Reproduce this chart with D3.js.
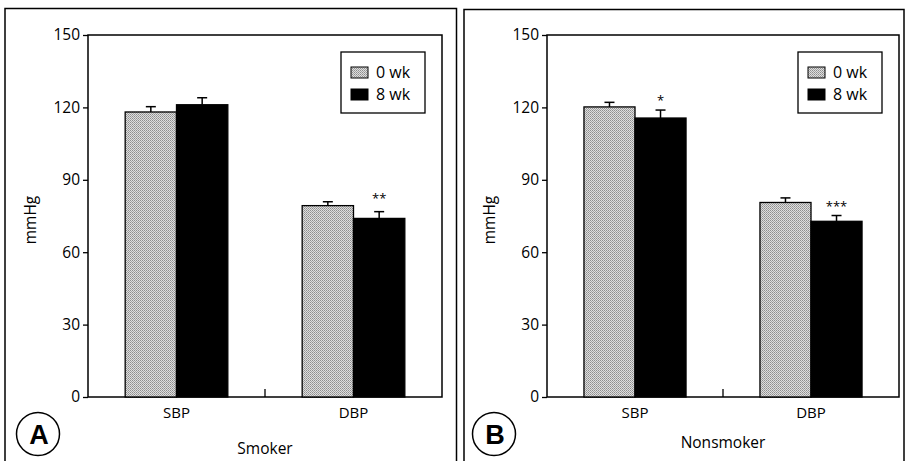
<!DOCTYPE html>
<html><head><meta charset="utf-8">
<script src="https://cdn.jsdelivr.net/npm/d3@7"></script>
<style>body{margin:0;background:#fff}svg{display:block;font-family:"Open Sans",sans-serif}</style>
</head><body><svg id="c" width="905" height="461"></svg>
<script>
const categories = ["SBP", "DBP"];
const seriesNames = ["0 wk", "8 wk"];
const yTicks = [0, 30, 60, 90, 120, 150];
const smoker0 = [118.1, 79.3];
const smoker8 = [121.1, 74.0];
const smokerErr0 = [2.2, 1.6];
const smokerErr8 = [2.9, 2.8];
const smokerSig = ["", "**"];
const nonsmoker0 = [120.2, 80.6];
const nonsmoker8 = [115.6, 72.8];
const nonsmokerErr0 = [1.9, 1.9];
const nonsmokerErr8 = [3.3, 2.4];
const nonsmokerSig = ["*", "***"];

const svg = d3.select("#c");
const defs = svg.append("defs");
const pat = defs.append("pattern").attr("id","dither").attr("patternUnits","userSpaceOnUse").attr("width",2).attr("height",2);
pat.append("rect").attr("width",2).attr("height",2).attr("fill","#dedede");
pat.append("rect").attr("width",1).attr("height",1).attr("fill","#8e8e8e");
pat.append("rect").attr("x",1).attr("y",1).attr("width",1).attr("height",1).attr("fill","#a4a4a4");
const fills = ["url(#dither)", "#000"];

function panel(o) {
  const g = svg.append("g");
  g.append("rect").attr("x", o.bx0).attr("y", o.by0).attr("width", o.bx1 - o.bx0).attr("height", 480)
    .attr("fill","none").attr("stroke","#000").attr("stroke-width",1.5);
  const y = d3.scaleLinear().domain([0,150]).range([397,35]);
  const x0 = d3.scaleBand().domain(categories).range([o.left, o.right]).paddingInner(0.42).paddingOuter(0.21);
  const x1 = d3.scaleBand().domain(seriesNames).range([0, x0.bandwidth()]);
  g.append("rect").attr("x", o.left).attr("y", y(150)).attr("width", o.right - o.left).attr("height", y(0) - y(150))
    .attr("fill","none").attr("stroke","#000").attr("stroke-width",1.5);
  const ya = g.append("g").attr("transform", `translate(${o.left},0)`)
    .call(d3.axisLeft(y).tickValues(yTicks).tickSize(5).tickPadding(3).tickFormat(d3.format("d")));
  ya.select(".domain").remove();
  ya.selectAll("line").attr("stroke","#000").attr("stroke-width",1.3);
  ya.selectAll("text").attr("font-size",15.5).attr("font-family","Open Sans").attr("fill","#000");
  const mid = (x0("SBP") + x0("DBP") + x0.bandwidth()) / 2;
  g.append("line").attr("x1", mid).attr("x2", mid).attr("y1", y(0)).attr("y2", y(0) - 8).attr("stroke","#000").attr("stroke-width",1.3);
  const xa = g.append("g").attr("transform", `translate(0,${y(0)})`)
    .call(d3.axisBottom(x0).tickSize(0).tickPadding(10));
  xa.select(".domain").remove();
  xa.selectAll("text").attr("font-size",15).attr("font-family","Open Sans").attr("fill","#000");
  const vals = [o.v0, o.v8], errs = [o.e0, o.e8];
  seriesNames.forEach((s, si) => {
    const d = categories.map((c, ci) => ({c, v: vals[si][ci], e: errs[si][ci]}));
    g.append("g").selectAll("rect").data(d).join("rect")
      .attr("x", d => x0(d.c) + x1(s)).attr("width", x1.bandwidth())
      .attr("y", d => y(d.v)).attr("height", d => y(0) - y(d.v))
      .attr("fill", fills[si]).attr("stroke","#000").attr("stroke-width",1.3);
    const eg = g.append("g").attr("stroke","#000").attr("stroke-width",1.5);
    eg.selectAll("line.v").data(d).join("line").attr("class","v")
      .attr("x1", d => x0(d.c) + x1(s) + x1.bandwidth()/2).attr("x2", d => x0(d.c) + x1(s) + x1.bandwidth()/2)
      .attr("y1", d => y(d.v)).attr("y2", d => y(d.v + d.e));
    eg.selectAll("line.h").data(d).join("line").attr("class","h")
      .attr("x1", d => x0(d.c) + x1(s) + x1.bandwidth()/2 - 5).attr("x2", d => x0(d.c) + x1(s) + x1.bandwidth()/2 + 5)
      .attr("y1", d => y(d.v + d.e)).attr("y2", d => y(d.v + d.e));
  });
  g.append("g").selectAll("text").data(categories.map((c, ci) => ({c, v: o.v8[ci] + o.e8[ci], s: o.sig[ci]})))
    .join("text").attr("x", d => x0(d.c) + x1("8 wk") + x1.bandwidth()/2).attr("y", d => y(d.v) - o.sigOff)
    .attr("text-anchor","middle").attr("font-size",13).attr("font-family","Open Sans").text(d => d.s);
  g.append("text").attr("transform", `translate(${o.left - 52},${(y(0)+y(150))/2 + 4}) rotate(-90)`)
    .attr("text-anchor","middle").attr("font-size",15.5).text("mmHg");
  g.append("text").attr("x", mid).attr("y", o.titleY).attr("text-anchor","middle").attr("font-size",15.5).text(o.title);
  const lx = o.right - 101, ly = 52;
  g.append("rect").attr("x", lx).attr("y", ly).attr("width", 84).attr("height", 61)
    .attr("fill","#fff").attr("stroke","#000").attr("stroke-width",1.3);
  seriesNames.forEach((s, i) => {
    g.append("rect").attr("x", lx + 10).attr("y", ly + 15 + i*22).attr("width", 17).attr("height", 11)
      .attr("fill", fills[i]).attr("stroke","#000").attr("stroke-width",1);
    g.append("text").attr("x", lx + 35).attr("y", ly + 26 + i*22).attr("font-size",16).text(s);
  });
  g.append("circle").attr("cx", o.cx).attr("cy", 434).attr("r", 21.5).attr("fill","none").attr("stroke","#000").attr("stroke-width",1.5);
  g.append("text").attr("x", o.cx + 1).attr("y", 444).attr("text-anchor","middle").attr("font-size",27)
    .attr("font-weight","bold").attr("font-family","Liberation Sans").text(o.letter);
}

panel({bx0:5, by0:8.5, bx1:456.5, left:88, right:442, v0:smoker0, v8:smoker8, e0:smokerErr0, e8:smokerErr8,
  sig:smokerSig, sigOff:9, title:"Smoker", titleY:454, letter:"A", cx:38});
panel({bx0:464, by0:9.5, bx1:904, left:547, right:899, v0:nonsmoker0, v8:nonsmoker8, e0:nonsmokerErr0, e8:nonsmokerErr8,
  sig:nonsmokerSig, sigOff:5, title:"Nonsmoker", titleY:448, letter:"B", cx:494});
</script></body></html>
